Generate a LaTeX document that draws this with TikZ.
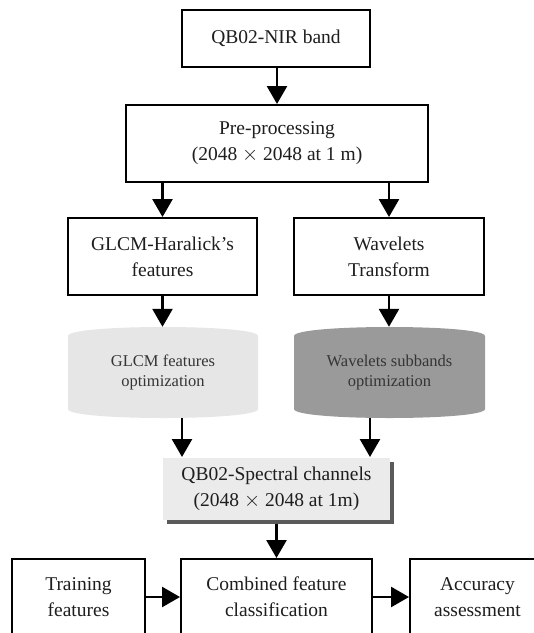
\documentclass[tikz,border=0pt]{standalone}
\usepackage{fontspec}
\setmainfont{Liberation Serif}
\usetikzlibrary{arrows.meta}
\definecolor{txt}{HTML}{1E1E1E}
\definecolor{cyllight}{HTML}{E6E6E6}
\definecolor{cyldark}{HTML}{9A9A9A}
\definecolor{specfill}{HTML}{EBEBEB}
\definecolor{shadowcol}{HTML}{5A5A5A}
\tikzset{
  box/.style={draw=black, line width=2pt, fill=white, inner sep=0pt, align=center,
    text=txt, font=\fontsize{19.5}{26}\selectfont},
  cyltext/.style={inner sep=0pt, align=center, text=txt!90,
    font=\fontsize{16.5}{20}\selectfont, minimum width=190pt, minimum height=91pt},
  arr/.style={line width=2.6pt, -{Triangle[width=20pt,length=18pt]}},
}
\begin{document}
\begin{tikzpicture}[x=1pt,y=-1pt]
\useasboundingbox (0,0) rectangle (534,633);
\clip (0,0) rectangle (534,633);
\fill[white] (0,0) rectangle (534,633);
% nodes
\node[box, minimum width=188pt, minimum height=57pt] (nir) at (276,38.5) {QB02-NIR band};
\node[box, minimum width=302pt, minimum height=77pt] (pre) at (277,143.5) {Pre-processing\\(2048 $\times$ 2048 at 1 m)};
\node[box, minimum width=189pt, minimum height=77pt] (glcm) at (162.5,256.5) {GLCM-Haralick's\\features};
\node[box, minimum width=190pt, minimum height=77pt] (wav) at (389,256.5) {Wavelets\\Transform};
% cylinders
\fill[cyllight] (68,336) .. controls (68,324) and (258,324) .. (258,336) -- (258,409) .. controls (258,421) and (68,421) .. (68,409) -- cycle;
\fill[cyldark] (294,336) .. controls (294,324) and (485,324) .. (485,336) -- (485,409) .. controls (485,421) and (294,421) .. (294,409) -- cycle;
\node[cyltext] (gopt) at (163,372.5) {GLCM features\\optimization};
\node[cyltext] (wopt) at (389.5,372.5) {Wavelets subbands\\optimization};
% spectral box with shadow
\fill[shadowcol] (167,462) rectangle (394,524);
\node[box, draw=none, fill=specfill, minimum width=227pt, minimum height=62pt] (spec) at (276.5,489) {QB02-Spectral channels\\(2048 $\times$ 2048 at 1m)};
% bottom row
\node[box, minimum width=133pt, minimum height=76pt] (train) at (78.5,597) {Training\\features};
\node[box, minimum width=191pt, minimum height=76pt] (comb) at (276.5,597) {Combined feature\\classification};
\node[box, minimum width=135pt, minimum height=76pt] (acc) at (477.5,597) {Accuracy\\assessment};
% connectors
\draw[arr] (nir.south -| pre) -- (pre.north);
\draw[arr] (pre.south -| glcm) -- (glcm.north);
\draw[arr] (pre.south -| wav) -- (wav.north);
\draw[arr] (glcm.south) -- (gopt.north -| glcm);
\draw[arr] (wav.south) -- (wopt.north -| wav);
\coordinate (gx) at (182,0);
\coordinate (wx) at (370,0);
\draw[arr] (gopt.south -| gx) -- (spec.north -| gx);
\draw[arr] (wopt.south -| wx) -- (spec.north -| wx);
\draw[arr] (spec.south) ++(0,3) -- (comb.north);
\draw[arr] (train.east) -- (comb.west);
\draw[arr] (comb.east) -- (acc.west);
\end{tikzpicture}
\end{document}
